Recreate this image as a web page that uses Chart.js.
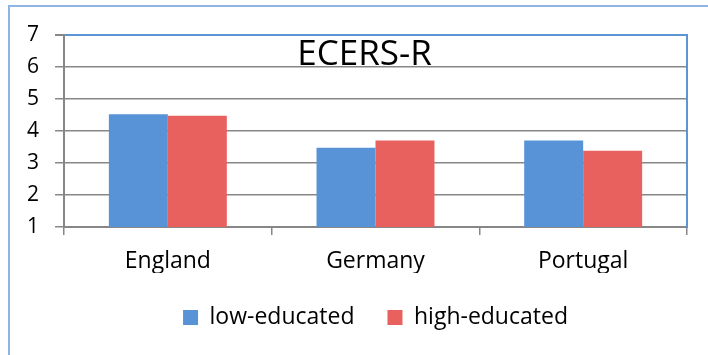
<!DOCTYPE html>
<html>
<head>
<meta charset="utf-8">
<script src="https://cdn.jsdelivr.net/npm/chart.js@4/dist/chart.umd.min.js"></script>
<style>
  html, body { margin: 0; padding: 0; background: #ffffff; }
  #wrap { width: 708px; height: 355px; position: relative; }
</style>
</head>
<body>
<div id="wrap"><canvas id="c" width="708" height="355"></canvas></div>
<script>
const chartTitle = 'ECERS-R';
const categories = ['England', 'Germany', 'Portugal'];
const seriesNames = ['low-educated', 'high-educated'];
const lowEducated = [4.52, 3.48, 3.70];
const highEducated = [4.48, 3.70, 3.38];
const yMin = 1;
const yMax = 7;
const yStep = 1;

const BLUE = '#5893d8';
const RED = '#e8615e';
const GRID = '#878787';
const FRAME = '#8db4e2';
const PLOT_BORDER = '#5b95d6';
const FONT = '"Open Sans", "Liberation Sans", sans-serif';

const decorPlugin = {
  id: 'decor',
  beforeDraw(chart) {
    const ctx = chart.ctx;
    ctx.save();
    ctx.strokeStyle = FRAME;
    ctx.lineWidth = 2;
    ctx.beginPath();
    ctx.moveTo(9, chart.height + 5);
    ctx.lineTo(9, 6);
    ctx.lineTo(chart.width + 5, 6);
    ctx.stroke();
    ctx.restore();
  },
  afterDatasetsDraw(chart) {
    const ctx = chart.ctx;
    const a = chart.chartArea;
    ctx.save();
    ctx.fillStyle = '#000000';
    ctx.font = '35px ' + FONT;
    ctx.textAlign = 'center';
    ctx.textBaseline = 'alphabetic';
    ctx.fillText(chartTitle, (a.left + a.right) / 2 - 11, a.top + 30);
    ctx.restore();
  }
};

new Chart(document.getElementById('c'), {
  type: 'bar',
  data: {
    labels: categories,
    datasets: [
      { label: seriesNames[0], data: lowEducated, backgroundColor: BLUE, borderWidth: 0 },
      { label: seriesNames[1], data: highEducated, backgroundColor: RED, borderWidth: 0 }
    ]
  },
  options: {
    responsive: false,
    animation: false,
    layout: { padding: { top: 35, right: 21, bottom: 16, left: 0 } },
    datasets: { bar: { categoryPercentage: 0.568, barPercentage: 1.0 } },
    scales: {
      x: {
        type: 'category',
        grid: {
          display: true, offset: true, drawOnChartArea: false, drawTicks: true,
          tickLength: 8, color: GRID, lineWidth: 1.5
        },
        border: { display: true, color: GRID, width: 2 },
        ticks: { color: '#000000', font: { family: FONT, size: 23 }, padding: 13, maxRotation: 0 },
        afterFit(scale) { scale.height = 46; }
      },
      y: {
        min: yMin, max: yMax,
        grid: {
          color: (c) => (c.tick && c.tick.value === yMax ? PLOT_BORDER : GRID),
          tickColor: GRID,
          lineWidth: (c) => (c.tick && c.tick.value === yMax ? 2 : 1.5),
          tickLength: 9, drawTicks: true
        },
        border: { display: true, color: GRID, width: 2 },
        ticks: { stepSize: yStep, color: '#000000', font: { family: FONT, size: 21 }, padding: 16 },
        afterFit(scale) { scale.width = 64; }
      },
      y2: {
        position: 'right',
        min: yMin, max: yMax,
        grid: { display: false },
        ticks: { display: false },
        border: { display: true, color: PLOT_BORDER, width: 2 },
        afterFit(scale) { scale.width = 0; }
      }
    },
    plugins: {
      title: { display: false },
      tooltip: { enabled: false },
      legend: {
        display: true,
        position: 'bottom',
        fullSize: false,
        labels: {
          color: '#000000',
          font: { family: FONT, size: 23 },
          boxWidth: 15, boxHeight: 15,
          padding: 33
        }
      }
    }
  },
  plugins: [decorPlugin]
});
</script>
</body>
</html>
